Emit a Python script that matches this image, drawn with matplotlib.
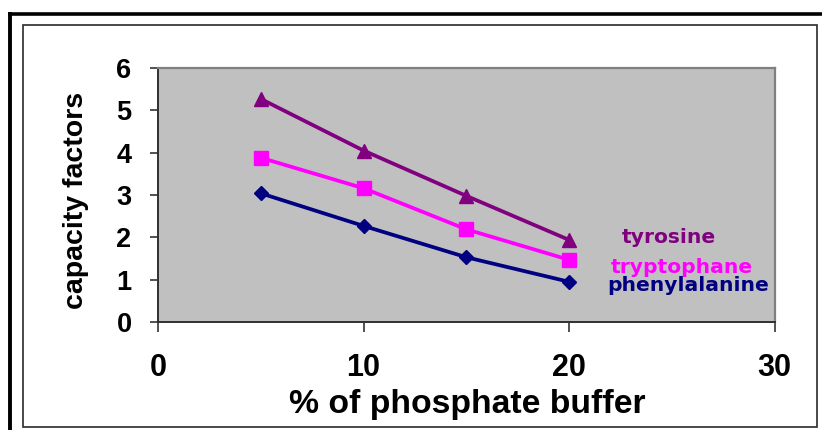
import matplotlib
matplotlib.use("Agg")
import matplotlib.pyplot as plt
from matplotlib.lines import Line2D
from matplotlib.patches import Rectangle

# Capacity factors vs. % of phosphate buffer in the mobile phase
buffer_pct = [5, 10, 15, 20]
tyrosine = [5.27, 4.05, 2.98, 1.94]
tryptophane = [3.88, 3.16, 2.19, 1.47]
phenylalanine = [3.04, 2.27, 1.53, 0.95]

series_names = ["tyrosine", "tryptophane", "phenylalanine"]
x_ticks = [0, 10, 20, 30]
y_ticks = [0, 1, 2, 3, 4, 5, 6]

W, H = 822, 430
fig = plt.figure(figsize=(W / 100, H / 100), dpi=100)
fig.patch.set_facecolor("white")

def fx(px):
    return px / W

def fy(py):
    return 1 - py / H

# Heavy outer frame (left and top edges)
fig.add_artist(Line2D([fx(10.3), fx(10.3)], [0, fy(14.3)], color="black",
                      lw=2.8, solid_capstyle="projecting"))
fig.add_artist(Line2D([fx(10.3), 1.0], [fy(14.3), fy(14.3)], color="black",
                      lw=2.6, solid_capstyle="projecting"))
# Thin chart-area frame
fig.add_artist(Rectangle((fx(22.5), fy(427)), fx(817) - fx(22.5), fy(24.5) - fy(427),
                         fill=False, edgecolor="#2a2a2a", lw=1.2))

ax = fig.add_axes([fx(158), fy(322), fx(774.5) - fx(158), fy(68) - fy(322)])
ax.set_facecolor("#C0C0C0")

ax.plot(buffer_pct, phenylalanine, color="#000080", lw=2.7, marker="D", ms=7.6,
        zorder=3)
ax.plot(buffer_pct, tryptophane, color="#FF00FF", lw=2.7, marker="s", ms=9.4,
        zorder=3)
ax.plot(buffer_pct, tyrosine, color="#800080", lw=2.7, marker="^", ms=10.5,
        zorder=3)

ax.set_xlim(0, 30)
ax.set_ylim(0, 6)
ax.set_xticks(x_ticks)
ax.set_yticks(y_ticks)
ax.set_xticklabels([str(v) for v in x_ticks], fontfamily="Liberation Sans",
                   fontweight="bold", fontsize=22)
ax.set_yticklabels([str(v) for v in y_ticks], fontfamily="Liberation Sans",
                   fontweight="bold", fontsize=19.5)
ax.tick_params(axis="x", direction="out", length=7, width=1.1, color="#222222",
               pad=15)
ax.tick_params(axis="y", direction="out", length=6, width=1.1, color="#222222",
               pad=13)

for side in ("left", "bottom"):
    ax.spines[side].set_color("#303030")
    ax.spines[side].set_linewidth(1.4)
for side in ("top", "right"):
    ax.spines[side].set_color("#808080")
    ax.spines[side].set_linewidth(1.6)

# Series labels next to the line ends
label_font = dict(fontfamily="DejaVu Sans", fontweight="bold", fontsize=14.6,
                  ha="left", va="baseline")
ax.text(22.56, 1.86, series_names[0], color="#800080", **label_font)
ax.text(22.04, 1.15, series_names[1], color="#FF00FF", **label_font)
ax.text(21.88, 0.73, series_names[2], color="#000080", **label_font)

fig.text(fx(76), fy(200), "capacity factors", rotation=90, ha="center",
         va="center", fontfamily="Liberation Sans", fontweight="bold",
         fontsize=20.5)
fig.text(fx(467), fy(413), "% of phosphate buffer", ha="center", va="baseline",
         fontfamily="Liberation Sans", fontweight="bold", fontsize=24.3)

fig.savefig("out.png", dpi=100, facecolor=fig.get_facecolor())
